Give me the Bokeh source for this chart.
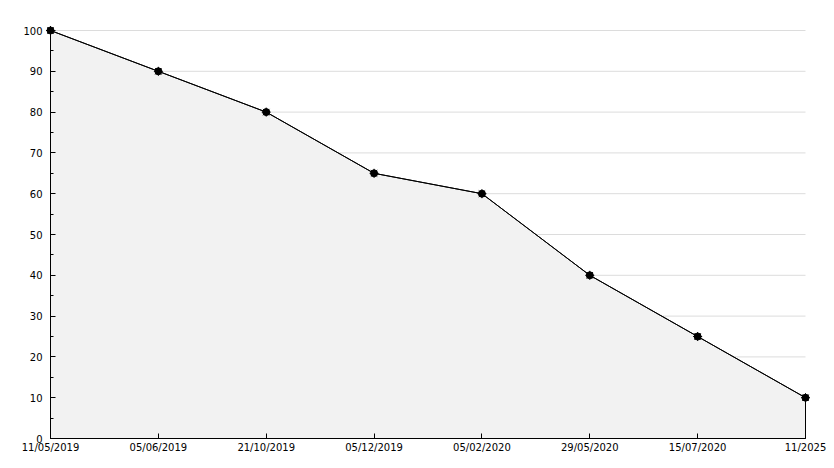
from bokeh.plotting import figure
from bokeh.models import FixedTicker, Range1d
from bokeh.embed import file_html
from bokeh.resources import INLINE

dates = ["11/05/2019", "05/06/2019", "21/10/2019", "05/12/2019",
         "05/02/2020", "29/05/2020", "15/07/2020", "11/2025"]
values = [100, 90, 80, 65, 60, 40, 25, 10]
y_ticks = list(range(0, 101, 10))
y_minor = list(range(5, 100, 10))

xs = list(range(len(dates)))
n = len(dates) - 1

# layout in pixels: data area spans x 50..805, y 30..438 inside a 826x460 canvas
W, H = 826, 460
L, R, T, B = 50, 805, 30, 438
xu = (R - L) / n
yu = (B - T) / 100

p = figure(width=W, height=H, output_backend="svg", toolbar_location=None,
           x_range=Range1d(-L / xu, n + (W - R) / xu),
           y_range=Range1d(-(H - B) / yu, 100 + T / yu),
           min_border=0)
p.outline_line_color = None
p.background_fill_color = "white"
p.border_fill_color = "white"

# grid lines limited to the data area
p.xgrid.grid_line_color = None
p.ygrid.grid_line_color = None
p.segment(x0=[0] * len(y_ticks), x1=[n] * len(y_ticks), y0=y_ticks, y1=y_ticks,
          line_color="#dcdcdc", line_width=1)

# area
px = [xs[0]] + xs + [xs[-1]]
py = [0] + values + [0]
p.patch(px, py, fill_color="#f2f2f2", line_color="black", line_width=1)
p.line(xs, values, line_color="black", line_width=1)
p.scatter(xs, values, marker="circle", size=7, fill_color="black", line_color="black")
p.scatter(xs, values, marker="asterisk", size=9, line_color="black", line_width=1)

p.yaxis.ticker = FixedTicker(ticks=y_ticks, minor_ticks=y_minor)
p.xaxis.ticker = FixedTicker(ticks=xs)
p.xaxis.major_label_overrides = {i: d for i, d in enumerate(dates)}
p.yaxis.fixed_location = 0
p.xaxis.fixed_location = 0
p.yaxis.bounds = (0, 100)
p.xaxis.bounds = (0, n)

for ax in (p.xaxis[0], p.yaxis[0]):
    ax.axis_line_color = "black"
    ax.major_tick_line_color = "black"
    ax.minor_tick_line_color = "black"
    ax.major_tick_in = 5
    ax.major_tick_out = 0
    ax.minor_tick_in = 3
    ax.minor_tick_out = 0
    ax.major_label_text_font = "DejaVu Sans"
    ax.major_label_text_font_size = "10px"
    ax.major_label_text_color = "black"
p.yaxis.major_label_standoff = 8
p.xaxis.major_label_standoff = 3

open("out.html", "w").write(file_html(p, INLINE))
